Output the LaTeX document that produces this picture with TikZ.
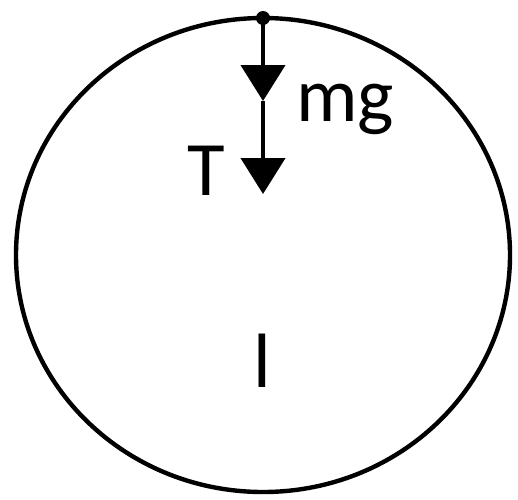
\documentclass[tikz,border=0pt]{standalone}
\usepackage{fontspec}
\setmainfont{Carlito}
\usetikzlibrary{arrows.meta}

\begin{document}
\begin{tikzpicture}[
  x=1pt, y=-1pt,
  rim/.style={line width=4.4pt},
  pivot/.style={circle, fill=black, inner sep=0pt, minimum size=14pt},
  force/.style={line width=4.4pt, -{Triangle[length=36pt, width=44pt]}},
  lbl/.style={font=\fontsize{77}{86}\selectfont, inner sep=0pt}
]
\useasboundingbox (0,0) rectangle (518,499);
\draw[rim] (263,255) ellipse [x radius=247pt, y radius=237pt];
\node[pivot] (pin) at (263,18) {};
\coordinate (mid) at (263,101);
\coordinate (low) at (263,194);
\draw[force] (pin.center) -- (mid);
\draw[force] (mid) -- (low);
\node[lbl, anchor=base west] (wlbl) at (296,121) {mg};
\node[lbl, anchor=base] (tlbl) at (206,195) {T};
\node[lbl, anchor=base] (len) at (262,387) {l};
\end{tikzpicture}
\end{document}
